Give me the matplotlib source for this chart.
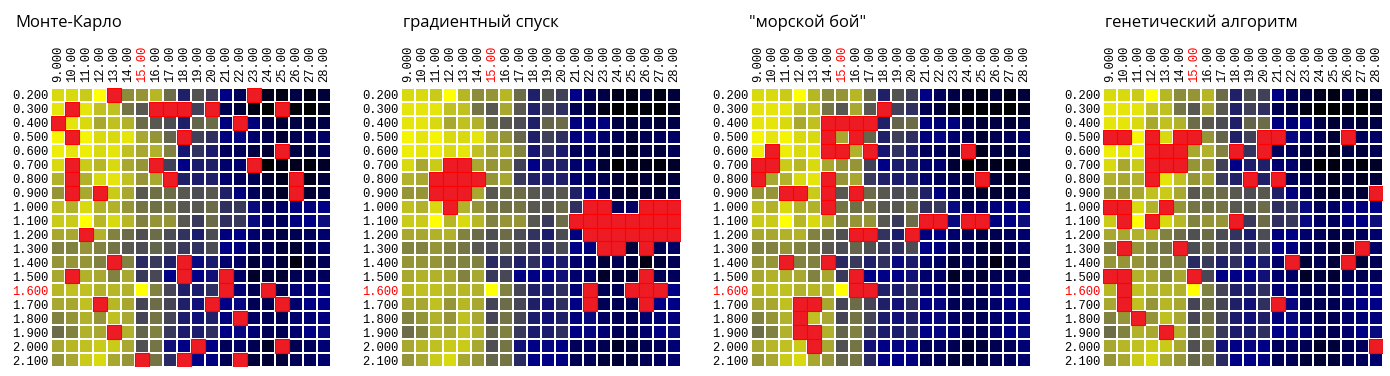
import matplotlib
matplotlib.use("Agg")
import matplotlib.pyplot as plt
import numpy as np
from matplotlib.colors import LinearSegmentedColormap

# x: first parameter, y: second parameter
x_vals = [9, 10, 11, 12, 13, 14, 15, 16, 17, 18, 19, 20, 21, 22, 23, 24, 25, 26, 27, 28]
y_vals = [0.2, 0.3, 0.4, 0.5, 0.6, 0.7, 0.8, 0.9, 1.0, 1.1,
          1.2, 1.3, 1.4, 1.5, 1.6, 1.7, 1.8, 1.9, 2.0, 2.1]
x_best = 15
y_best = 1.6

# objective value on the grid (0 = worst/black, 10 = best/yellow)
score = [
    [9, 9, 8.7, 10, 8.3, 7.3, 7.5, 8.3, 6.5, 4, 5.8, 5, 3, 2, 1.6, 0.7, 0.5, 1.5, 0.5, 1.3],
    [9.3, 9.3, 9.3, 8.5, 8.5, 6.7, 6, 8, 6, 4, 5, 4.5, 1.8, 1.3, 0.5, 0, 0, 0.3, 0, 0.7],
    [9.3, 9.3, 9, 8, 8.5, 8.2, 6.5, 6, 5.5, 4, 6.3, 6.5, 2.8, 2.6, 2.8, 1.5, 1.2, 1.5, 1.2, 1.5],
    [9.7, 9.3, 9.7, 9, 9, 9.3, 8, 7.5, 6.3, 4, 5, 4.5, 2.8, 3.2, 2.4, 1.8, 1.2, 1.8, 2, 2.2],
    [9.5, 9.3, 9.5, 9, 9.3, 8.5, 8, 8.2, 7, 3.7, 4.6, 3.9, 2, 2, 1.5, 1.2, 0.7, 1.5, 1.3, 1.9],
    [9, 8, 8.7, 8.3, 9, 8, 7.5, 7.5, 5, 3, 3.9, 4, 2.4, 2.4, 1.2, 0, 0.4, 0.7, 0.3, 0.9],
    [8.2, 8, 8.2, 9, 9.3, 8.5, 7.5, 8, 4.8, 4, 3.9, 4, 2.4, 2, 1.8, 1.2, 0.7, 1.3, 0.7, 1.3],
    [7.5, 7.5, 8, 8.5, 8.7, 8, 6, 6.6, 6.5, 6, 5.5, 6, 4, 2.8, 2, 1.2, 0.9, 1.2, 1.2, 1.5],
    [8.5, 8.2, 9, 8.2, 8.2, 7.5, 6.7, 6.6, 6.7, 6, 6, 6.5, 4.5, 4.8, 3.3, 2, 2.2, 2.8, 2.8, 3],
    [8.7, 8.7, 10, 8.3, 9, 8.3, 7, 7.5, 7.5, 6, 4.8, 6.5, 4.5, 4.8, 3.3, 2.2, 2, 2.8, 3, 3.4],
    [8, 8, 8.2, 8.2, 7, 6.5, 5.7, 6.5, 5.5, 4.6, 3.9, 5.5, 2.8, 3, 2.4, 1.9, 1.5, 1.8, 2, 2.4],
    [7, 7, 7.5, 7, 6.7, 6, 5.5, 6.3, 5.7, 4.8, 4.5, 5.5, 3, 2.8, 1.9, 1.9, 1.3, 1.2, 1.8, 2.2],
    [7.5, 7.5, 7.5, 7, 7, 7, 4.3, 4.8, 4, 4.5, 3.3, 3.9, 2.4, 2.2, 1.3, 1.9, 1.3, 0.4, 1.3, 1.9],
    [8, 8.2, 8.2, 8, 7, 8, 4.8, 5.3, 3, 3, 3, 3.5, 2.4, 2.2, 0.9, 1.3, 1.2, 1.8, 1.8, 2],
    [8.3, 8.5, 8.5, 8.2, 8.3, 8.2, 10, 7, 5.2, 4, 3.9, 4.5, 2.6, 2.6, 1.8, 1.9, 1.8, 2.6, 2.6, 3],
    [8, 8, 8.5, 7.5, 8.3, 8, 5.2, 6.5, 5.2, 4, 3.5, 4.5, 3, 3.2, 1.9, 1.8, 1.8, 2.4, 3, 3],
    [7, 7.5, 8.2, 7.5, 8.5, 8, 5.2, 6.7, 5.2, 3.9, 3.5, 4, 2.8, 3.3, 2.2, 1.9, 1.8, 2.4, 2.6, 2.8],
    [6.5, 7, 8.2, 8, 8.5, 8.2, 6.3, 7, 4.8, 3.9, 3.9, 4.5, 3, 3.2, 2.6, 1.9, 1.8, 2.4, 3, 3.3],
    [8, 8.3, 8.5, 8.7, 8.7, 8, 5.7, 6.7, 3.5, 3, 3.2, 3, 2, 2.2, 1.8, 0.9, 1.3, 1.8, 2, 2.6],
    [7.5, 8, 8.7, 9, 8, 7.5, 6.3, 6.7, 4.3, 3, 3, 2.8, 1.8, 1.9, 1.3, 1.2, 1.3, 1.9, 2, 2.4],
]

titles = ["Монте-Карло", "градиентный спуск", "\"морской бой\"", "генетический алгоритм"]

# evaluated points (y, x) for each method
mc_hits = [(0.2, 13), (0.2, 23), (0.3, 10), (0.3, 16), (0.3, 17), (0.3, 18), (0.3, 20), (0.3, 25),
           (0.4, 9), (0.4, 22), (0.5, 10), (0.5, 18), (0.6, 25), (0.7, 10), (0.7, 16), (0.7, 23),
           (0.8, 10), (0.8, 17), (0.8, 26), (0.9, 10), (0.9, 12), (0.9, 26), (1.2, 11),
           (1.4, 13), (1.4, 18), (1.5, 10), (1.5, 18), (1.5, 21), (1.6, 21), (1.6, 24),
           (1.7, 12), (1.7, 20), (1.7, 25), (1.8, 22), (1.9, 13), (2.0, 19), (2.0, 25),
           (2.1, 15), (2.1, 18), (2.1, 22)]
gd_hits = [(0.7, 12), (0.7, 13), (0.8, 11), (0.8, 12), (0.8, 13), (0.8, 14),
           (0.9, 11), (0.9, 12), (0.9, 13), (1.0, 12), (1.0, 22), (1.0, 23), (1.0, 26), (1.0, 27), (1.0, 28),
           (1.1, 21), (1.1, 22), (1.1, 23), (1.1, 24), (1.1, 25), (1.1, 26), (1.1, 27), (1.1, 28),
           (1.2, 22), (1.2, 23), (1.2, 24), (1.2, 25), (1.2, 26), (1.2, 27), (1.2, 28),
           (1.3, 23), (1.3, 24), (1.3, 26), (1.5, 26), (1.6, 22), (1.6, 25), (1.6, 26), (1.6, 27),
           (1.7, 22), (1.7, 26)]
sb_hits = [(0.3, 18), (0.4, 14), (0.4, 15), (0.4, 16), (0.4, 17), (0.5, 14), (0.5, 16),
           (0.6, 10), (0.6, 14), (0.6, 15), (0.6, 17), (0.6, 24), (0.7, 9), (0.7, 10),
           (0.8, 9), (0.8, 14), (0.8, 25), (0.9, 11), (0.9, 12), (0.9, 14), (0.9, 16), (1.0, 14),
           (1.1, 21), (1.1, 22), (1.1, 24), (1.1, 25), (1.2, 16), (1.2, 17), (1.2, 20),
           (1.4, 11), (1.4, 14), (1.5, 16), (1.6, 16), (1.6, 17), (1.7, 12), (1.7, 13),
           (1.8, 12), (1.9, 12), (1.9, 13), (2.0, 13)]
ga_hits = [(0.5, 9), (0.5, 10), (0.5, 12), (0.5, 14), (0.5, 15), (0.5, 20), (0.5, 21), (0.5, 26),
           (0.6, 12), (0.6, 13), (0.6, 14), (0.6, 18), (0.6, 20), (0.7, 12), (0.7, 13), (0.7, 14),
           (0.8, 12), (0.8, 19), (0.8, 21), (0.9, 28), (1.0, 9), (1.0, 10), (1.0, 13),
           (1.1, 10), (1.1, 12), (1.1, 18), (1.3, 10), (1.3, 14), (1.3, 27), (1.4, 22), (1.4, 26),
           (1.5, 9), (1.5, 10), (1.5, 15), (1.6, 10), (1.7, 10), (1.7, 21), (1.8, 11), (1.9, 13),
           (2.0, 28)]
all_hits = [mc_hits, gd_hits, sb_hits, ga_hits]

cmap = LinearSegmentedColormap.from_list("excel", [
    (0.0, "#000000"), (0.3, "#000088"), (0.4, "#202068"), (0.5, "#404058"),
    (0.6, "#585850"), (0.7, "#808040"), (0.8, "#a8a830"), (0.9, "#d8d810"),
    (1.0, "#ffff00")])

fig = plt.figure(figsize=(13.9, 3.76), dpi=100)
W, H = 1390, 376
lefts = [51, 401, 751, 1103]
title_x = [15, 403, 749, 1105]
mono = "Liberation Mono"

z = np.array(score)
xlabels = [f"{v:.3f}"[:5] for v in x_vals]
ylabels = [f"{v:.3f}" for v in y_vals]

for i in range(4):
    ax = fig.add_axes([lefts[i] / W, 9 / H, 280 / W, 279 / H])
    ax.pcolormesh(np.arange(21), np.arange(21), z, cmap=cmap, vmin=0, vmax=10,
                  edgecolors="white", linewidth=1.2)
    cols = [x_vals.index(xv) for yv, xv in all_hits[i]]
    rows = [y_vals.index(yv) for yv, xv in all_hits[i]]
    ax.bar(cols, 1, bottom=rows, width=1, align="edge", color="#ed1c24",
           edgecolor="#ff0000", linewidth=0.8)
    ax.set_xlim(0, 20)
    ax.set_ylim(20, 0)
    ax.xaxis.tick_top()
    ax.set_xticks(np.arange(20) + 0.5)
    ax.set_xticklabels(xlabels, rotation=90, fontfamily=mono, fontsize=8.7)
    ax.set_yticks(np.arange(20) + 0.5)
    ax.set_yticklabels(ylabels, fontfamily=mono, fontsize=8.7)
    ax.tick_params(length=0, pad=2)
    ax.tick_params(axis="x", pad=4)
    for t, v in zip(ax.get_xticklabels(), x_vals):
        if v == x_best:
            t.set_color("#ff0000")
    for t, v in zip(ax.get_yticklabels(), y_vals):
        if v == y_best:
            t.set_color("#ff0000")
    for s in ax.spines.values():
        s.set_visible(False)
    fig.text(title_x[i] / W, 1 - 27 / H, titles[i], fontsize=12, family="Open Sans",
             va="baseline", ha="left")

fig.savefig("out.png", dpi=100)
